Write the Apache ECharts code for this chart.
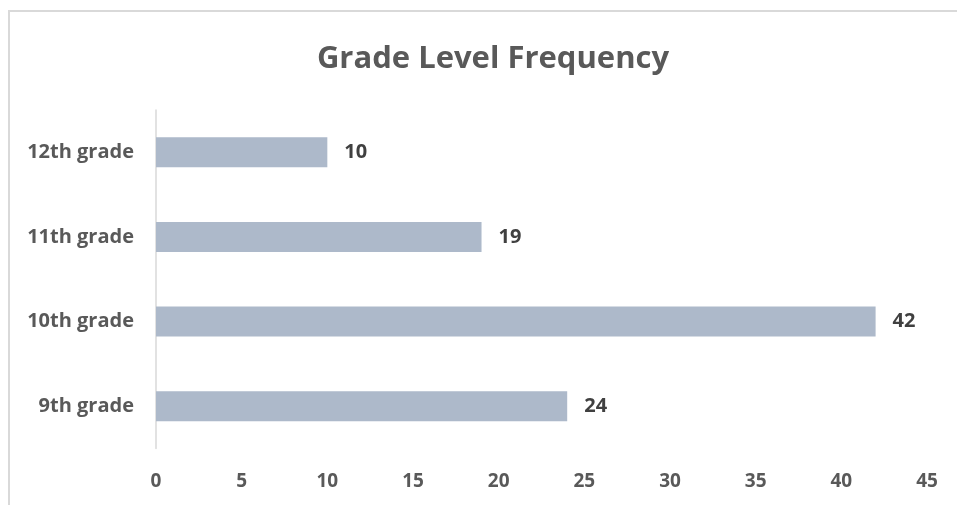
<!DOCTYPE html>
<html>
<head>
<meta charset="utf-8">
<script src="https://cdn.jsdelivr.net/npm/echarts@6/dist/echarts.min.js"></script>
<style>html,body{margin:0;padding:0;background:#fff}#c{width:957px;height:505px}</style>
</head>
<body>
<div id="c"></div>
<script>
const categories = ['9th grade', '10th grade', '11th grade', '12th grade'];
const frequency = [24, 42, 19, 10];
const xTicks = [0, 5, 10, 15, 20, 25, 30, 35, 40, 45];

const FONT = '"Open Sans", "Noto Sans", sans-serif';
const chart = echarts.init(document.getElementById('c'), null, {renderer: 'canvas'});
chart.setOption({
  animation: false,
  backgroundColor: '#ffffff',
  title: {
    text: 'Grade Level Frequency',
    left: 488, top: 39, textAlign: 'center',
    textStyle: {fontFamily: FONT, fontWeight: 'bold', fontSize: 31, color: '#595959'}
  },
  graphic: [{
    type: 'rect', silent: true,
    shape: {x: 9, y: 11, width: 1100, height: 700},
    style: {fill: 'none', stroke: '#d9d9d9', lineWidth: 2}
  }],
  grid: {left: 156, right: 30, top: 110, bottom: 56.5, containLabel: false},
  xAxis: {
    type: 'value', min: xTicks[0], max: xTicks[xTicks.length - 1], interval: 5,
    splitLine: {show: false}, axisLine: {show: false}, axisTick: {show: false},
    axisLabel: {margin: 24, fontFamily: FONT, fontWeight: 'bold', fontSize: 19, color: '#595959'}
  },
  yAxis: {
    type: 'category', data: categories,
    axisLine: {show: true, lineStyle: {color: '#d9d9d9', width: 1.5}},
    axisTick: {show: false},
    axisLabel: {margin: 22, fontFamily: FONT, fontWeight: 'bold', fontSize: 20, color: '#595959'}
  },
  series: [{
    type: 'bar', data: frequency, barWidth: 30,
    itemStyle: {color: '#adb9ca'},
    label: {show: true, position: 'right', distance: 17,
      fontFamily: FONT, fontWeight: 'bold', fontSize: 20, color: '#404040'}
  }]
});
</script>
</body>
</html>
